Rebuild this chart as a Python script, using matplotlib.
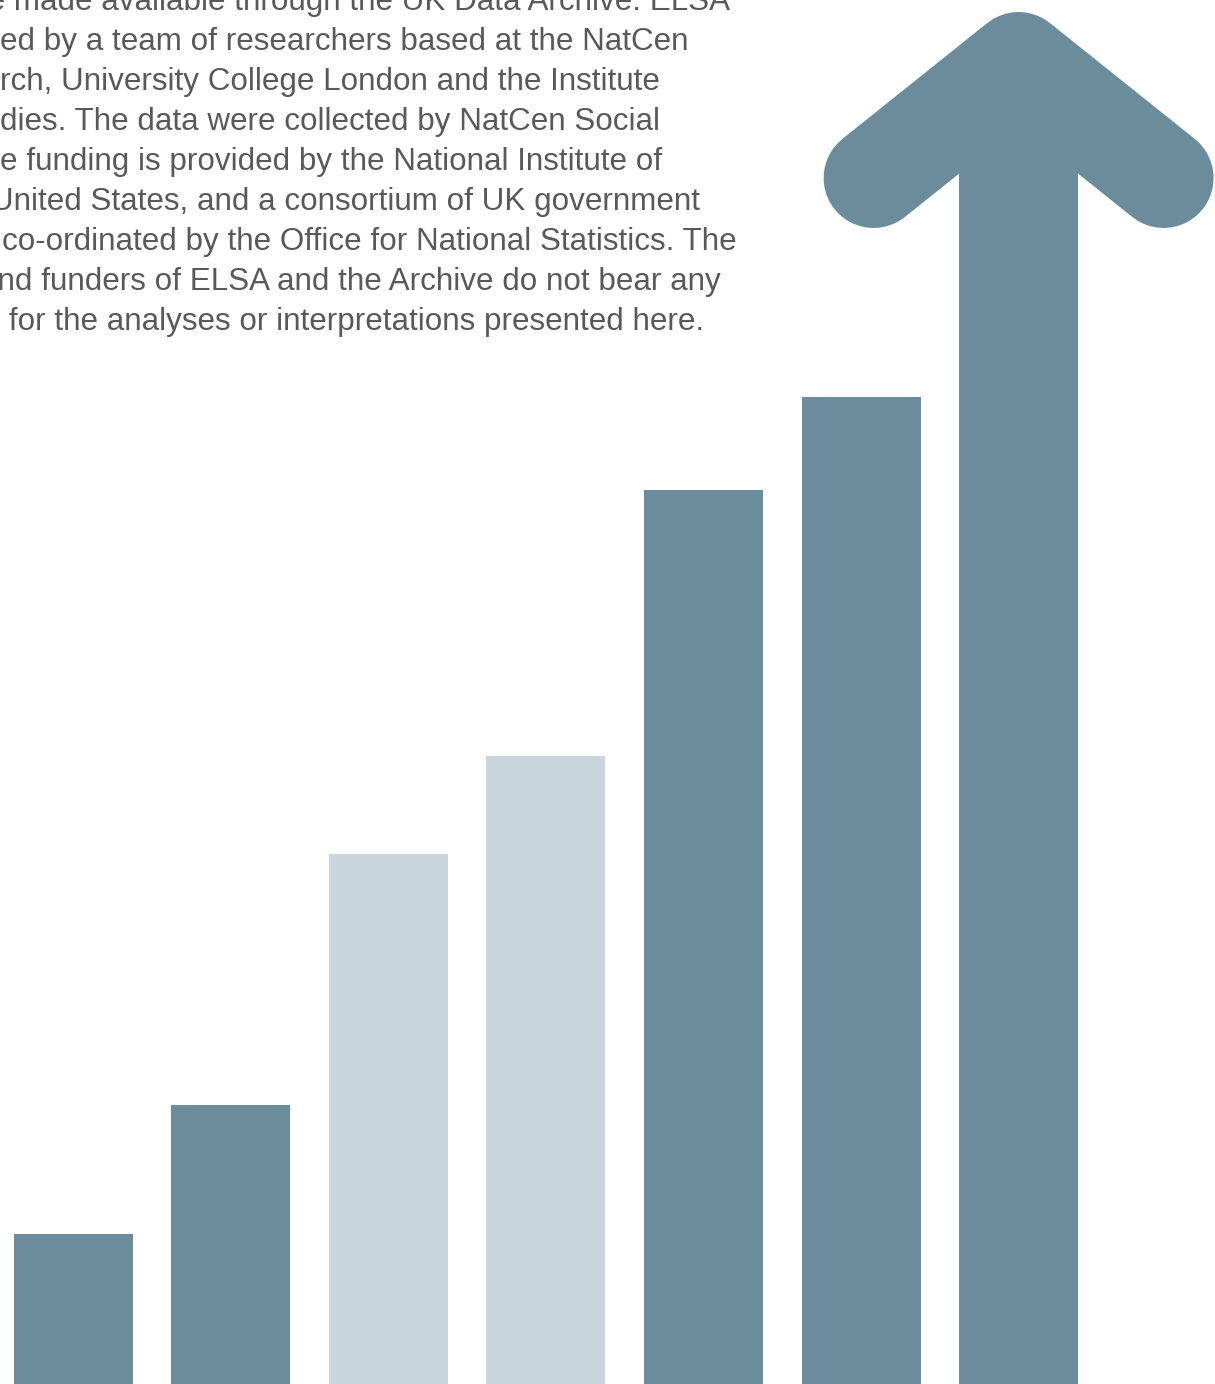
import matplotlib.pyplot as plt

# bar heights, last one is the arrow (value = arrow tip)
categories = ["1", "2", "3", "4", "5", "6", "7"]
values = [150, 279, 530, 628, 894, 987, 1372]
shades = ["dark", "dark", "light", "light", "dark", "dark", "dark"]

text_lines = [
    "were made available through the UK Data Archive. ELSA",
    "ed by a team of researchers based at the NatCen",
    "rch, University College London and the Institute",
    "dies. The data were collected by NatCen Social",
    "e funding is provided by the National Institute of",
    "United States, and a consortium of UK government",
    "co-ordinated by the Office for National Statistics. The",
    "and funders of ELSA and the Archive do not bear any",
    " for the analyses or interpretations presented here.",
]
text_x = [-63, 0, 0, 0, 0, -9, 2, -20, 0]

DARK = "#6b8c9b"
LIGHT = "#c9d6de"
W, H = 1215, 1384

fig = plt.figure(figsize=(W / 100, H / 100), dpi=100)
ax = fig.add_axes([0, 0, 1, 1])
ax.set_xlim(0, W)
ax.set_ylim(0, H)
ax.axis("off")

xs = [73 + 157.6 * i for i in range(len(categories))]
cols = [DARK if s == "dark" else LIGHT for s in shades]

# arrow shaft runs up into the chevron
heights = values[:-1] + [values[-1] - 110]
ax.bar(xs, heights, width=119, color=cols, bottom=0)

# chevron head of the arrow
tip = values[-1] - 50
ax.plot([xs[-1] - 145, xs[-1], xs[-1] + 145], [tip - 116, tip, tip - 116],
        color=DARK, lw=72, solid_capstyle="round", solid_joinstyle="round")

for i, (line, x0) in enumerate(zip(text_lines, text_x)):
    ax.text(x0, H - 10 - 40 * i, line, fontsize=22.6, color="#595959",
            family="Liberation Sans", ha="left", va="baseline")

fig.savefig("out.png", dpi=100)
